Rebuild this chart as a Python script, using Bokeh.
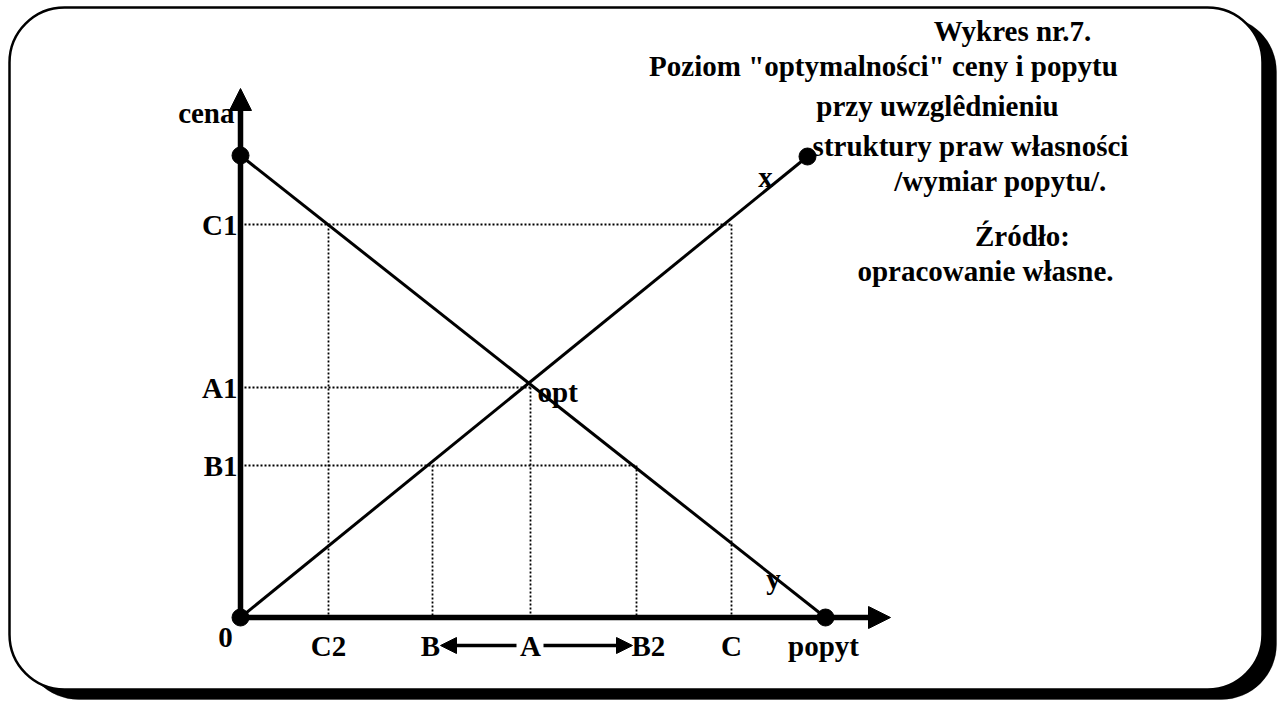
from bokeh.plotting import figure
from bokeh.models import Range1d, BoxAnnotation, Arrow, NormalHead
from bokeh.core.properties import value
from bokeh.embed import file_html
from bokeh.resources import INLINE

# ---- data (price / quantity levels, in chart units from the origin) ----
price_labels = ["C1", "A1", "B1"]
price_levels = [393, 230, 152]
qty_labels = ["C2", "B", "A", "B2", "C"]
qty_levels = [88, 192, 290, 396, 491]
demand_x = [0, 585]      # line "y"
demand_y = [462, 0]
supply_x = [0, 567]      # line "x"
supply_y = [0, 461]
opt_q, opt_p = 290, 230
axis_x_end = 650
axis_y_end = 529
title_lines = [
    "Wykres nr.7.",
    "Poziom \"optymalności\" ceny i popytu",
    "przy uwzglêdnieniu",
    "struktury praw własności",
    "/wymiar popytu/.",
    "Źródło:",
    "opracowanie własne.",
]

FONT = value("Liberation Serif")
FS = "29px"
FW = "bold"

W, H = 1278, 701
p = figure(width=W, height=H, output_backend="svg", toolbar_location=None,
           x_range=Range1d(-240, 1038), y_range=Range1d(-84, 617),
           min_border=0, tools="")
p.axis.visible = False
p.grid.visible = False
p.outline_line_color = None
p.background_fill_color = "white"
p.border_fill_color = "white"

# frame with shadow
shadow = BoxAnnotation(left=-217, right=1036, top=601, bottom=-82,
                       fill_color="black", fill_alpha=1, line_color="black",
                       border_radius=55, level="underlay")
frame = BoxAnnotation(left=-231, right=1022, top=610, bottom=-72,
                      fill_color="white", fill_alpha=1, line_color="black",
                      line_width=2.5, line_alpha=1, border_radius=55,
                      level="underlay")
p.add_layout(shadow)
p.add_layout(frame)

# dotted guides
seg_x0, seg_y0, seg_x1, seg_y1 = [], [], [], []
c1, a1, b1 = price_levels
c2, b, a, b2, c = qty_levels
for (xe, yv) in [(c, c1), (a, a1), (b2, b1)]:
    seg_x0.append(0); seg_y0.append(yv); seg_x1.append(xe); seg_y1.append(yv)
for (xv, ytop) in [(c2, c1), (b, b1), (a, a1), (b2, b1), (c, c1)]:
    seg_x0.append(xv); seg_y0.append(ytop); seg_x1.append(xv); seg_y1.append(0)
p.segment(seg_x0, seg_y0, seg_x1, seg_y1, line_color="black",
          line_width=1.8, line_dash="2 2")

# demand & supply lines
p.line(demand_x, demand_y, line_color="black", line_width=3)
p.line(supply_x, supply_y, line_color="black", line_width=3)

# axes with arrows
p.add_layout(Arrow(x_start=0, y_start=0, x_end=0, y_end=axis_y_end,
                   line_width=5.5, line_color="black",
                   end=NormalHead(size=22, fill_color="black", line_color="black")))
p.add_layout(Arrow(x_start=0, y_start=0, x_end=axis_x_end, y_end=0,
                   line_width=5.5, line_color="black",
                   end=NormalHead(size=22, fill_color="black", line_color="black")))

# end-point dots
p.scatter([0, demand_x[0], demand_x[1], supply_x[1]],
          [0, demand_y[0], demand_y[1], supply_y[1]],
          size=17, color="black")

# A -> B and A -> B2 arrows under the axis
ly = -28
p.add_layout(Arrow(x_start=a - 14, y_start=ly, x_end=b + 8, y_end=ly,
                   line_width=3.5, line_color="black",
                   end=NormalHead(size=16, fill_color="black", line_color="black")))
p.add_layout(Arrow(x_start=a + 13, y_start=ly, x_end=b2 - 4, y_end=ly,
                   line_width=3.5, line_color="black",
                   end=NormalHead(size=16, fill_color="black", line_color="black")))

def txt(xs, ys, ts, align):
    p.text(x=xs, y=ys, text=ts, text_align=align, text_baseline="middle",
           text_font=FONT, text_font_size=FS, text_font_style=FW,
           text_color="black")

# price labels (left of axis)
txt([-3] * len(price_levels), price_levels, price_labels, "right")
txt([-6], [axis_y_end - 24], ["cena"], "right")
txt([-15], [-20], ["0"], "center")

# quantity labels (below axis)
txt([c2, b - 2, a, c], [ly] * 4, ["C2", "B", "A", "C"], "center")
txt([b2 - 5], [ly], ["B2"], "left")
txt([demand_x[1] - 2], [ly], ["popyt"], "center")

# curve labels
txt([opt_q + 7], [opt_p - 4], ["opt"], "left")
txt([525], [441], ["x"], "center")
txt([533], [39], ["y"], "center")

# caption block
cap_x = [772, 643, 697, 730, 760, 782, 745]
cap_y = [587, 552, 512, 472, 437, 382, 347]
txt(cap_x, cap_y, title_lines, "center")

open("out.html", "w").write(file_html(p, INLINE))
